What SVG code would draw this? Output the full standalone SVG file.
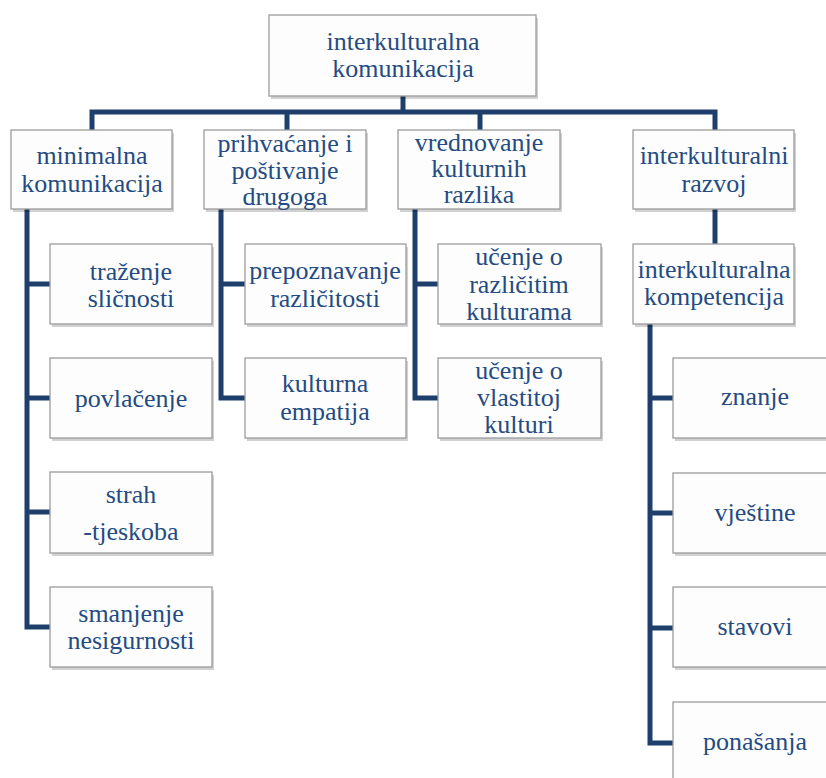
<svg xmlns="http://www.w3.org/2000/svg" width="826" height="778" viewBox="0 0 826 778">
<style>
.box{fill:#fdfdfd;stroke:#9c9c9c;stroke-width:1.3}
.sh{fill:#000;fill-opacity:0.18;stroke:none}
.t{font-size:26px;fill:#244b82;text-anchor:middle}
.c{fill:none;stroke:#1e3e6c;stroke-width:5;stroke-linejoin:miter;stroke-linecap:butt}
</style>
<rect width="826" height="778" fill="#ffffff"/>
<g id="connectors">
<path class="c" d="M403 96 V112"/>
<path class="c" d="M92 130 V112 H715 V130"/>
<path class="c" d="M287 112 V130"/>
<path class="c" d="M480 112 V130"/>
<path class="c" d="M27 209 V627 H50"/>
<path class="c" d="M27 284 H50 M27 398 H50 M27 512 H50"/>
<path class="c" d="M221 209 V398 H245"/>
<path class="c" d="M221 284 H245"/>
<path class="c" d="M415 209 V398 H438"/>
<path class="c" d="M415 284 H438"/>
<path class="c" d="M715 209 V244"/>
<path class="c" d="M650 324 V743 H673"/>
<path class="c" d="M650 398 H673 M650 513 H673 M650 628 H673"/>
</g>
<g id="n-root"><rect class="sh" x="271" y="18" width="267" height="81"/><rect class="box" x="269" y="15" width="267" height="81"/><text class="t" font-family="Liberation Serif" x="403" y="50">interkulturalna</text><text class="t" font-family="Liberation Serif" x="403" y="77">komunikacija</text></g>
<g id="n-minimalna"><rect class="sh" x="13" y="133" width="161" height="79"/><rect class="box" x="11" y="130" width="161" height="79"/><text class="t" font-family="Liberation Serif" x="92" y="164">minimalna</text><text class="t" font-family="Liberation Serif" x="92" y="192">komunikacija</text></g>
<g id="n-prihvacanje"><rect class="sh" x="206" y="133" width="162" height="79"/><rect class="box" x="204" y="130" width="162" height="79"/><text class="t" font-family="Liberation Serif" x="285" y="152">prihvaćanje i</text><text class="t" font-family="Liberation Serif" x="285" y="179">poštivanje</text><text class="t" font-family="Liberation Serif" x="285" y="205">drugoga</text></g>
<g id="n-vrednovanje"><rect class="sh" x="400" y="133" width="162" height="79"/><rect class="box" x="398" y="130" width="162" height="79"/><text class="t" font-family="Liberation Serif" x="479" y="151">vrednovanje</text><text class="t" font-family="Liberation Serif" x="479" y="177">kulturnih</text><text class="t" font-family="Liberation Serif" x="479" y="203">razlika</text></g>
<g id="n-razvoj"><rect class="sh" x="635" y="133" width="161" height="79"/><rect class="box" x="633" y="130" width="161" height="79"/><text class="t" font-family="Liberation Serif" x="714" y="164">interkulturalni</text><text class="t" font-family="Liberation Serif" x="714" y="192">razvoj</text></g>
<g id="n-trazenje"><rect class="sh" x="52" y="247" width="162" height="80"/><rect class="box" x="50" y="244" width="162" height="80"/><text class="t" font-family="Liberation Serif" x="131" y="280">traženje</text><text class="t" font-family="Liberation Serif" x="131" y="307">sličnosti</text></g>
<g id="n-povlacenje"><rect class="sh" x="52" y="361" width="162" height="80"/><rect class="box" x="50" y="358" width="162" height="80"/><text class="t" font-family="Liberation Serif" x="131" y="407">povlačenje</text></g>
<g id="n-strah"><rect class="sh" x="52" y="475" width="162" height="81"/><rect class="box" x="50" y="472" width="162" height="81"/><text class="t" font-family="Liberation Serif" x="131" y="503">strah</text><text class="t" font-family="Liberation Serif" x="131" y="540">-tjeskoba</text></g>
<g id="n-smanjenje"><rect class="sh" x="52" y="590" width="162" height="80"/><rect class="box" x="50" y="587" width="162" height="80"/><text class="t" font-family="Liberation Serif" x="131" y="622">smanjenje</text><text class="t" font-family="Liberation Serif" x="131" y="649">nesigurnosti</text></g>
<g id="n-prepoznavanje"><rect class="sh" x="247" y="247" width="161" height="80"/><rect class="box" x="245" y="244" width="161" height="80"/><text class="t" font-family="Liberation Serif" x="325" y="279">prepoznavanje</text><text class="t" font-family="Liberation Serif" x="325" y="307">različitosti</text></g>
<g id="n-empatija"><rect class="sh" x="247" y="361" width="161" height="80"/><rect class="box" x="245" y="358" width="161" height="80"/><text class="t" font-family="Liberation Serif" x="325" y="392">kulturna</text><text class="t" font-family="Liberation Serif" x="325" y="420">empatija</text></g>
<g id="n-razlicitim"><rect class="sh" x="440" y="247" width="163" height="80"/><rect class="box" x="438" y="244" width="163" height="80"/><text class="t" font-family="Liberation Serif" x="519" y="265">učenje o</text><text class="t" font-family="Liberation Serif" x="519" y="293">različitim</text><text class="t" font-family="Liberation Serif" x="519" y="320">kulturama</text></g>
<g id="n-vlastitoj"><rect class="sh" x="440" y="361" width="163" height="80"/><rect class="box" x="438" y="358" width="163" height="80"/><text class="t" font-family="Liberation Serif" x="519" y="379">učenje o</text><text class="t" font-family="Liberation Serif" x="519" y="406">vlastitoj</text><text class="t" font-family="Liberation Serif" x="519" y="433">kulturi</text></g>
<g id="n-kompetencija"><rect class="sh" x="635" y="247" width="161" height="80"/><rect class="box" x="633" y="244" width="161" height="80"/><text class="t" font-family="Liberation Serif" x="714" y="278">interkulturalna</text><text class="t" font-family="Liberation Serif" x="714" y="305">kompetencija</text></g>
<g id="n-znanje"><rect class="sh" x="675" y="361" width="165" height="80"/><rect class="box" x="673" y="358" width="165" height="80"/><text class="t" font-family="Liberation Serif" x="755" y="405">znanje</text></g>
<g id="n-vjestine"><rect class="sh" x="675" y="476" width="165" height="80"/><rect class="box" x="673" y="473" width="165" height="80"/><text class="t" font-family="Liberation Serif" x="755" y="521">vještine</text></g>
<g id="n-stavovi"><rect class="sh" x="675" y="590" width="165" height="80"/><rect class="box" x="673" y="587" width="165" height="80"/><text class="t" font-family="Liberation Serif" x="755" y="635">stavovi</text></g>
<g id="n-ponasanja"><rect class="sh" x="675" y="705" width="165" height="90"/><rect class="box" x="673" y="702" width="165" height="90"/><text class="t" font-family="Liberation Serif" x="755" y="750">ponašanja</text></g>
</svg>
